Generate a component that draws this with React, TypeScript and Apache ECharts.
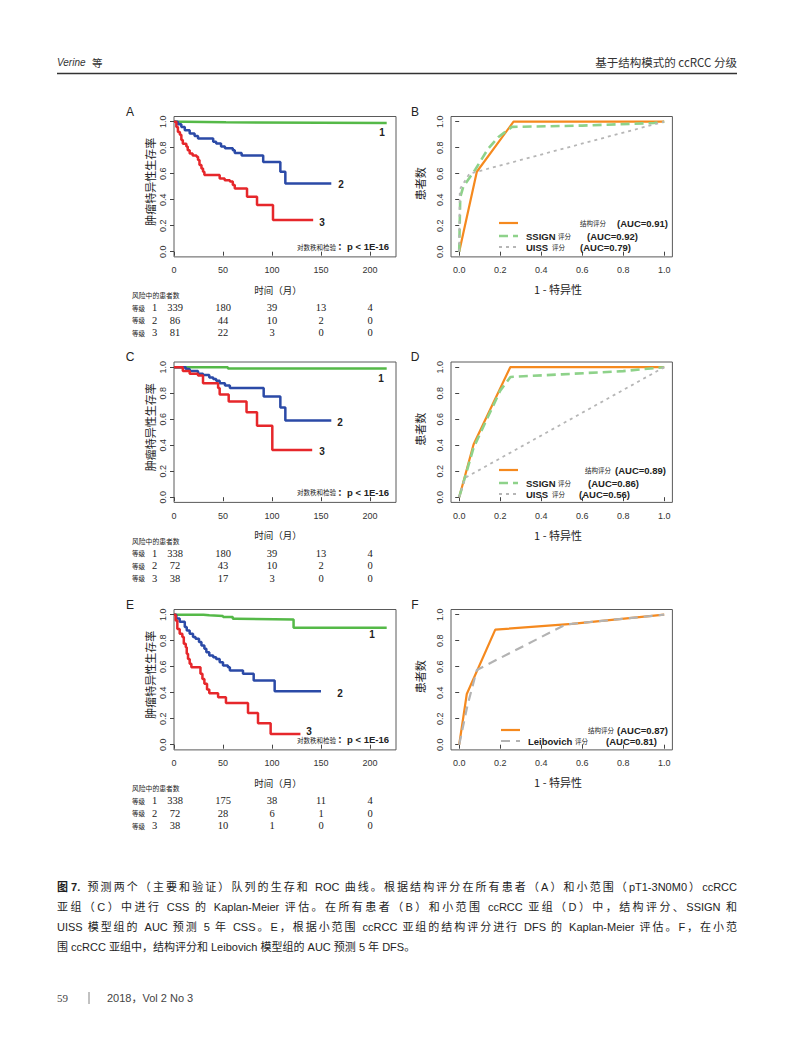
import React, { useEffect, useRef } from "react";
import * as echarts from "echarts";

// ---------------- data ----------------
const timeTicks = [0, 50, 100, 150, 200];
const probTicks = [0, 0.2, 0.4, 0.6, 0.8, 1.0];

// Panel A – Kaplan-Meier, all patients (CSS)
const kmA_grade1 = [[0, 1], [10, 0.995], [53, 0.99], [217, 0.99]];
const kmA_grade2 = [[0, 1], [4, 0.98], [7.5, 0.96], [11, 0.935], [16, 0.91], [21, 0.89], [24.5, 0.87], [40, 0.846], [43, 0.833], [48, 0.81], [52, 0.795], [60, 0.78], [62, 0.76], [69, 0.74], [91, 0.69], [108.5, 0.615], [113.6, 0.525], [160.5, 0.525]];
const kmA_grade3 = [[0, 1], [2.4, 0.96], [4, 0.92], [6, 0.9], [7.5, 0.86], [9, 0.83], [12.6, 0.81], [14, 0.78], [16, 0.756], [19, 0.74], [23, 0.73], [24.5, 0.705], [26, 0.667], [28, 0.64], [29.6, 0.615], [31, 0.59], [46.6, 0.564], [51.7, 0.55], [57, 0.54], [60, 0.513], [62, 0.487], [74.5, 0.423], [84.7, 0.36], [101, 0.243], [142, 0.243]];

// Panel C – Kaplan-Meier, small ccRCC subgroup (CSS)
const kmC_grade1 = [[0, 1], [55, 0.99], [217, 0.99]];
const kmC_grade2 = [[0, 1], [12, 0.987], [16, 0.97], [24.5, 0.95], [29.6, 0.94], [36, 0.92], [40, 0.91], [43, 0.895], [46.6, 0.877], [52, 0.86], [57, 0.84], [91.5, 0.774], [108.5, 0.69], [113.6, 0.59], [160.5, 0.59]];
const kmC_grade3 = [[0, 1], [9, 0.97], [16, 0.95], [24.5, 0.936], [29.6, 0.877], [45, 0.84], [46.6, 0.79], [55.8, 0.736], [74, 0.654], [84.7, 0.549], [100.3, 0.364], [141, 0.364]];

// Panel E – Kaplan-Meier, small ccRCC subgroup (DFS)
const kmE_grade1 = [[0, 1], [30, 0.995], [36, 0.99], [50, 0.982], [60, 0.969], [63.6, 0.964], [122, 0.9], [217, 0.9]];
const kmE_grade2 = [[0, 1], [2.4, 0.97], [5.8, 0.945], [11, 0.905], [13, 0.879], [16, 0.853], [19.4, 0.828], [22, 0.815], [25.5, 0.79], [28, 0.763], [31, 0.738], [33, 0.712], [36, 0.686], [40, 0.673], [43, 0.66], [46.6, 0.635], [50, 0.609], [55, 0.596], [57, 0.57], [70.4, 0.545], [81.3, 0.494], [102.7, 0.411], [150, 0.411]];
const kmE_grade3 = [[0, 1], [1.7, 0.956], [3.4, 0.89], [5.8, 0.853], [8.5, 0.828], [10, 0.776], [12, 0.75], [13, 0.7], [14.3, 0.66], [16, 0.622], [17.7, 0.596], [27, 0.545], [29, 0.506], [31, 0.468], [33.7, 0.424], [36, 0.396], [45, 0.365], [53, 0.32], [75.5, 0.244], [85.7, 0.165], [98.6, 0.082], [129, 0.082]];

// Risk tables (patients at risk at 0, 50, 100, 150, 200 months)
const riskA = [[339, 180, 39, 13, 4], [86, 44, 10, 2, 0], [81, 22, 3, 0, 0]];
const riskC = [[338, 180, 39, 13, 4], [72, 43, 10, 2, 0], [38, 17, 3, 0, 0]];
const riskE = [[338, 175, 38, 11, 4], [72, 28, 6, 1, 0], [38, 10, 1, 0, 0]];
const gradeNames = ["1", "2", "3"];

// ROC curves
const rocB_struct = [[0, 0], [0.086, 0.615], [0.265, 1], [1, 1]];
const rocB_ssign = [[0, 0], [0.005, 0.42], [0.02, 0.5], [0.078, 0.63], [0.14, 0.79], [0.19, 0.88], [0.257, 0.96], [0.6, 0.97], [0.95, 0.99], [1, 1]];
const rocB_uiss = [[0, 0], [0.003, 0.48], [0.05, 0.6], [1, 1]];

const rocD_struct = [[0, 0], [0.07, 0.405], [0.249, 1], [1, 1]];
const rocD_ssign = [[0, 0], [0.07, 0.38], [0.12, 0.55], [0.2, 0.82], [0.25, 0.925], [0.5, 0.945], [0.8, 0.97], [1, 1]];
const rocD_uiss = [[0, 0], [0.03, 0.15], [1, 1]];

const rocF_struct = [[0, 0], [0.037, 0.39], [0.176, 0.885], [0.55, 0.93], [1, 1]];
const rocF_leib = [[0, 0], [0.04, 0.3], [0.086, 0.575], [0.52, 0.925], [1, 1]];

const aucB = ["(AUC=0.91)", "(AUC=0.92)", "(AUC=0.79)"];
const aucD = ["(AUC=0.89)", "(AUC=0.86)", "(AUC=0.56)"];
const aucF = ["(AUC=0.87)", "(AUC=0.81)"];

const captionBold = "图 7.";
const captionLines = [
  " 预测两个（主要和验证）队列的生存和 ROC 曲线。根据结构评分在所有患者（A）和小范围（pT1-3N0M0）ccRCC",
  "亚组（C）中进行 CSS 的 Kaplan-Meier 评估。在所有患者（B）和小范围 ccRCC 亚组（D）中，结构评分、SSIGN 和",
  "UISS 模型组的 AUC 预测 5 年 CSS。E，根据小范围 ccRCC 亚组的结构评分进行 DFS 的 Kaplan-Meier 评估。F，在小范",
  "围 ccRCC 亚组中，结构评分和 Leibovich 模型组的 AUC 预测 5 年 DFS。",
];

// ---------------- layout / style ----------------
const SANS = '"Liberation Sans", Arial, "Noto Sans CJK SC", sans-serif';
const CJK = '"Noto Sans CJK SC", "Liberation Sans", sans-serif';
const SERIF = '"Liberation Serif", "Times New Roman", "Noto Sans CJK SC", serif';

const ROW_TOP = [116.5, 362, 609.5];
const BOX_H = 140.4;
const KM_LEFT = 174, KM_W = 222, KM_XMAX = 226.5;
const ROC_LEFT = 451, ROC_W = 221.4;

const KM_COLORS = ["#55b948", "#2b4aa7", "#e6272b"];
const ORANGE = "#f5891e", LGREEN = "#8ed28a", GREY = "#b6b6b6";

function txt(x: number, y: number, text: string, size: number, o: any = {}) {
  return {
    type: "text",
    x,
    y,
    rotation: o.rot || 0,
    silent: true,
    z: 10,
    style: {
      text,
      fontSize: size,
      fontFamily: o.family || SANS,
      fontWeight: o.weight || "normal",
      fontStyle: o.style || "normal",
      fill: o.color || "#222",
      align: o.align || "left",
      verticalAlign: o.va || "middle",
    },
  };
}

function seg(x1: number, y1: number, x2: number, y2: number, color: string, width: number, dash?: number[]) {
  return {
    type: "line",
    silent: true,
    z: 10,
    shape: { x1, y1, x2, y2 },
    style: { stroke: color, lineWidth: width, lineDash: dash || null },
  };
}

// justified paragraph line, split into units placed with equal extra spacing
function justified(parts: { text: string; bold?: boolean }[], x0: number, y: number, width: number, size: number, justify: boolean) {
  const canvas = document.createElement("canvas");
  const ctx = canvas.getContext("2d") as CanvasRenderingContext2D;
  const units: { text: string; bold: boolean; w: number }[] = [];
  const re = /[\u3000-\u303f\u3400-\u9fff\uff00-\uffef]|[^\s\u3000-\u303f\u3400-\u9fff\uff00-\uffef]+\s*|\s+/g;
  parts.forEach((p) => {
    const bold = !!p.bold;
    const toks = bold ? [p.text] : p.text.match(re) || [];
    toks.forEach((t) => {
      ctx.font = `${bold ? "bold " : ""}${size}px ${SANS}`;
      units.push({ text: t, bold, w: ctx.measureText(t).width });
    });
  });
  const total = units.reduce((s, u) => s + u.w, 0);
  const extra = justify && units.length > 1 ? (width - total) / (units.length - 1) : 0;
  const out: any[] = [];
  let x = x0;
  units.forEach((u) => {
    if (u.text.trim().length) out.push(txt(x, y, u.text, size, { weight: u.bold ? "bold" : "normal", color: "#1e1e1e" }));
    x += u.w + extra;
  });
  return out;
}

function buildOption() {
  const grid: any[] = [];
  const xAxis: any[] = [];
  const yAxis: any[] = [];
  const series: any[] = [];
  const g: any[] = [];

  const boxStyle = { show: true, borderColor: "#5a5a5a", borderWidth: 1, backgroundColor: "rgba(0,0,0,0)", outerBoundsMode: "none", containLabel: false };
  const tick = (vals: number[]) => ({ show: true, length: 4, customValues: vals, lineStyle: { color: "#444", width: 1 } });

  const kmPanels = [
    { letter: "A", data: [kmA_grade1, kmA_grade2, kmA_grade3], risk: riskA, labels: [[382, 132], [341, 184], [322, 222]] },
    { letter: "C", data: [kmC_grade1, kmC_grade2, kmC_grade3], risk: riskC, labels: [[381, 378], [340, 422], [322, 451]] },
    { letter: "E", data: [kmE_grade1, kmE_grade2, kmE_grade3], risk: riskE, labels: [[372, 634], [340, 693], [309, 731]] },
  ];

  const rocPanels = [
    {
      letter: "B",
      lines: [
        { data: rocB_struct, color: ORANGE, width: 2.2, dash: "solid" },
        { data: rocB_ssign, color: LGREEN, width: 2.6, dash: [9, 5] },
        { data: rocB_uiss, color: GREY, width: 1.8, dash: [3, 4] },
      ],
      legendY: [223, 236, 247],
      legend: [
        { name: "", sub: "结构评分", auc: aucB[0], nx: 0, sx: 580, ax: 617 },
        { name: "SSIGN", sub: "评分", auc: aucB[1], nx: 526, sx: 558, ax: 587 },
        { name: "UISS", sub: "评分", auc: aucB[2], nx: 526, sx: 552, ax: 580 },
      ],
      sampleX: [499, 518],
    },
    {
      letter: "D",
      lines: [
        { data: rocD_struct, color: ORANGE, width: 2.2, dash: "solid" },
        { data: rocD_ssign, color: LGREEN, width: 2.6, dash: [9, 5] },
        { data: rocD_uiss, color: GREY, width: 1.8, dash: [3, 4] },
      ],
      legendY: [470, 483, 494],
      legend: [
        { name: "", sub: "结构评分", auc: aucD[0], nx: 0, sx: 585, ax: 615 },
        { name: "SSIGN", sub: "评分", auc: aucD[1], nx: 526, sx: 558, ax: 588 },
        { name: "UISS", sub: "评分", auc: aucD[2], nx: 526, sx: 552, ax: 579 },
      ],
      sampleX: [499, 518],
    },
    {
      letter: "F",
      lines: [
        { data: rocF_struct, color: ORANGE, width: 2.2, dash: "solid" },
        { data: rocF_leib, color: "#b3b3b3", width: 2.2, dash: [9, 6] },
      ],
      legendY: [730, 741],
      legend: [
        { name: "", sub: "结构评分", auc: aucF[0], nx: 0, sx: 588, ax: 617 },
        { name: "Leibovich", sub: "评分", auc: aucF[1], nx: 528, sx: 575, ax: 606 },
      ],
      sampleX: [501, 520],
    },
  ];

  const kx = (t: number) => KM_LEFT + (t / KM_XMAX) * KM_W;
  const py = (r: number, v: number) => ROW_TOP[r] + (BOX_H * (1.04 - v)) / 1.08;

  for (let r = 0; r < 3; r++) {
    const top = ROW_TOP[r];
    const bottom = top + BOX_H;

    // ---- KM panel ----
    const gk = grid.length;
    grid.push({ left: KM_LEFT, top, width: KM_W, height: BOX_H, ...boxStyle });
    xAxis.push({
      type: "value", gridIndex: gk, min: 0, max: KM_XMAX,
      axisLine: { show: false }, splitLine: { show: false }, axisTick: tick(timeTicks),
      axisLabel: { show: true, customValues: timeTicks, margin: 9, fontSize: 9, color: "#333", fontFamily: SANS },
    });
    yAxis.push({
      type: "value", gridIndex: gk, min: -0.04, max: 1.04,
      axisLine: { show: false }, splitLine: { show: false }, axisTick: tick(probTicks),
      axisLabel: { show: true, customValues: probTicks, rotate: 90, align: "center", verticalAlign: "bottom", margin: 7, fontSize: 9, color: "#333", fontFamily: SANS, formatter: (v: number) => Number(v).toFixed(1) },
    });
    const kp = kmPanels[r];
    kp.data.forEach((d, i) => {
      series.push({
        type: "line", name: "等级 " + gradeNames[i], xAxisIndex: gk, yAxisIndex: gk, data: d, step: "end",
        symbol: "none", showSymbol: false, silent: true, clip: false, z: 3,
        lineStyle: { color: KM_COLORS[i], width: 2.5 }, itemStyle: { color: KM_COLORS[i] },
      });
      g.push(txt(kp.labels[i][0], kp.labels[i][1], gradeNames[i], 10, { weight: "bold", align: "center" }));
    });
    g.push(txt(130, top - 5, kp.letter, 12, { align: "center" }));
    g.push(txt(150, py(r, 0.5) - 5, "肿瘤特异性生存率", 11, { family: CJK, rot: Math.PI / 2, align: "center" }));
    g.push(txt(389, bottom - 10, "：p < 1E-16", 9.5, { weight: "bold", align: "right" }));
    g.push(txt(336, bottom - 10, "对数秩和检验", 6.5, { family: CJK, align: "right" }));
    g.push(txt(278, bottom + 33, "时间（月）", 9.5, { family: CJK, align: "center" }));
    g.push(txt(132, bottom + 38.5, "风险中的患者数", 6.8, { family: CJK }));
    const rowOff = [51, 63.5, 76];
    kp.risk.forEach((row, i) => {
      const y = bottom + rowOff[i];
      g.push(txt(132, y, "等级", 6.5, { family: CJK }));
      g.push(txt(154.5, y, gradeNames[i], 10.5, { family: SERIF, align: "center" }));
      row.forEach((v, j) => {
        g.push(txt(kx(timeTicks[j]) + (j === 0 ? 1 : 0), y, String(v), 10.5, { family: SERIF, align: "center" }));
      });
    });

    // ---- ROC panel ----
    const gr = grid.length;
    grid.push({ left: ROC_LEFT, top, width: ROC_W, height: BOX_H, ...boxStyle });
    xAxis.push({
      type: "value", gridIndex: gr, min: -0.04, max: 1.04,
      axisLine: { show: false }, splitLine: { show: false }, axisTick: tick(probTicks),
      axisLabel: { show: true, customValues: probTicks, margin: 9, fontSize: 9, color: "#333", fontFamily: SANS, formatter: (v: number) => Number(v).toFixed(1) },
    });
    yAxis.push({
      type: "value", gridIndex: gr, min: -0.04, max: 1.04,
      axisLine: { show: false }, splitLine: { show: false }, axisTick: tick(probTicks),
      axisLabel: { show: true, customValues: probTicks, rotate: 90, align: "center", verticalAlign: "bottom", margin: 7, fontSize: 9, color: "#333", fontFamily: SANS, formatter: (v: number) => Number(v).toFixed(1) },
    });
    const rp = rocPanels[r];
    rp.lines.forEach((ln) => {
      series.push({
        type: "line", xAxisIndex: gr, yAxisIndex: gr, data: ln.data, symbol: "none", showSymbol: false,
        silent: true, clip: false, z: 3,
        lineStyle: { color: ln.color, width: ln.width, type: ln.dash }, itemStyle: { color: ln.color },
      });
    });
    g.push(txt(415, top - 5, rp.letter, 12, { align: "center" }));
    g.push(txt(420, py(r, 0.5) - 3, "患者数", 11, { family: CJK, rot: Math.PI / 2, align: "center" }));
    g.push(txt(558, bottom + 32.5, "1 - 特异性", 11, { family: CJK, align: "center" }));
    rp.legend.forEach((lg, i) => {
      const y = rp.legendY[i];
      const ln = rp.lines[i];
      g.push(seg(rp.sampleX[0], y, rp.sampleX[1], y, ln.color, ln.width, ln.dash === "solid" ? undefined : (ln.dash as number[])));
      if (lg.name) g.push(txt(lg.nx, y, lg.name, 9.5, { weight: "bold" }));
      g.push(txt(lg.sx, y, lg.sub, 6.5, { family: CJK }));
      g.push(txt(lg.ax, y, lg.auc, 9.5, { weight: "bold" }));
    });
  }

  // header
  g.push(txt(57, 62, "Verine", 10, { style: "italic", color: "#333" }));
  g.push(txt(92, 62, "等", 10.5, { family: CJK, color: "#333" }));
  g.push(txt(737, 62, "基于结构模式的 ccRCC 分级", 11.5, { family: CJK, color: "#333", align: "right" }));
  g.push(seg(57, 73.5, 737, 73.5, "#333", 1.6));

  // caption (justified lines)
  const capY = [887, 907, 927, 947];
  captionLines.forEach((line, i) => {
    const parts = i === 0 ? [{ text: captionBold, bold: true }, { text: line }] : [{ text: line }];
    justified(parts, 57, capY[i], 680, 11, i < 3).forEach((e) => g.push(e));
  });

  // footer
  g.push(txt(57, 998, "59", 11, { family: SERIF, color: "#444" }));
  g.push(seg(89, 992, 89, 1004, "#666", 0.8));
  g.push(txt(107, 998, "2018，Vol 2 No 3", 11, { color: "#444" }));

  return {
    animation: false,
    backgroundColor: "#ffffff",
    grid,
    xAxis,
    yAxis,
    series,
    graphic: { elements: g },
  };
}

export default function App() {
  const ref = useRef<HTMLDivElement>(null);
  useEffect(() => {
    const chart = echarts.init(ref.current as HTMLDivElement, null, { renderer: "svg", width: 795, height: 1061 });
    chart.setOption(buildOption() as any);
    return () => chart.dispose();
  }, []);
  return (
    <div
      ref={ref}
      style={{ position: "absolute", left: 0, top: 0, width: 795, height: 1061, background: "#fff" }}
    />
  );
}
